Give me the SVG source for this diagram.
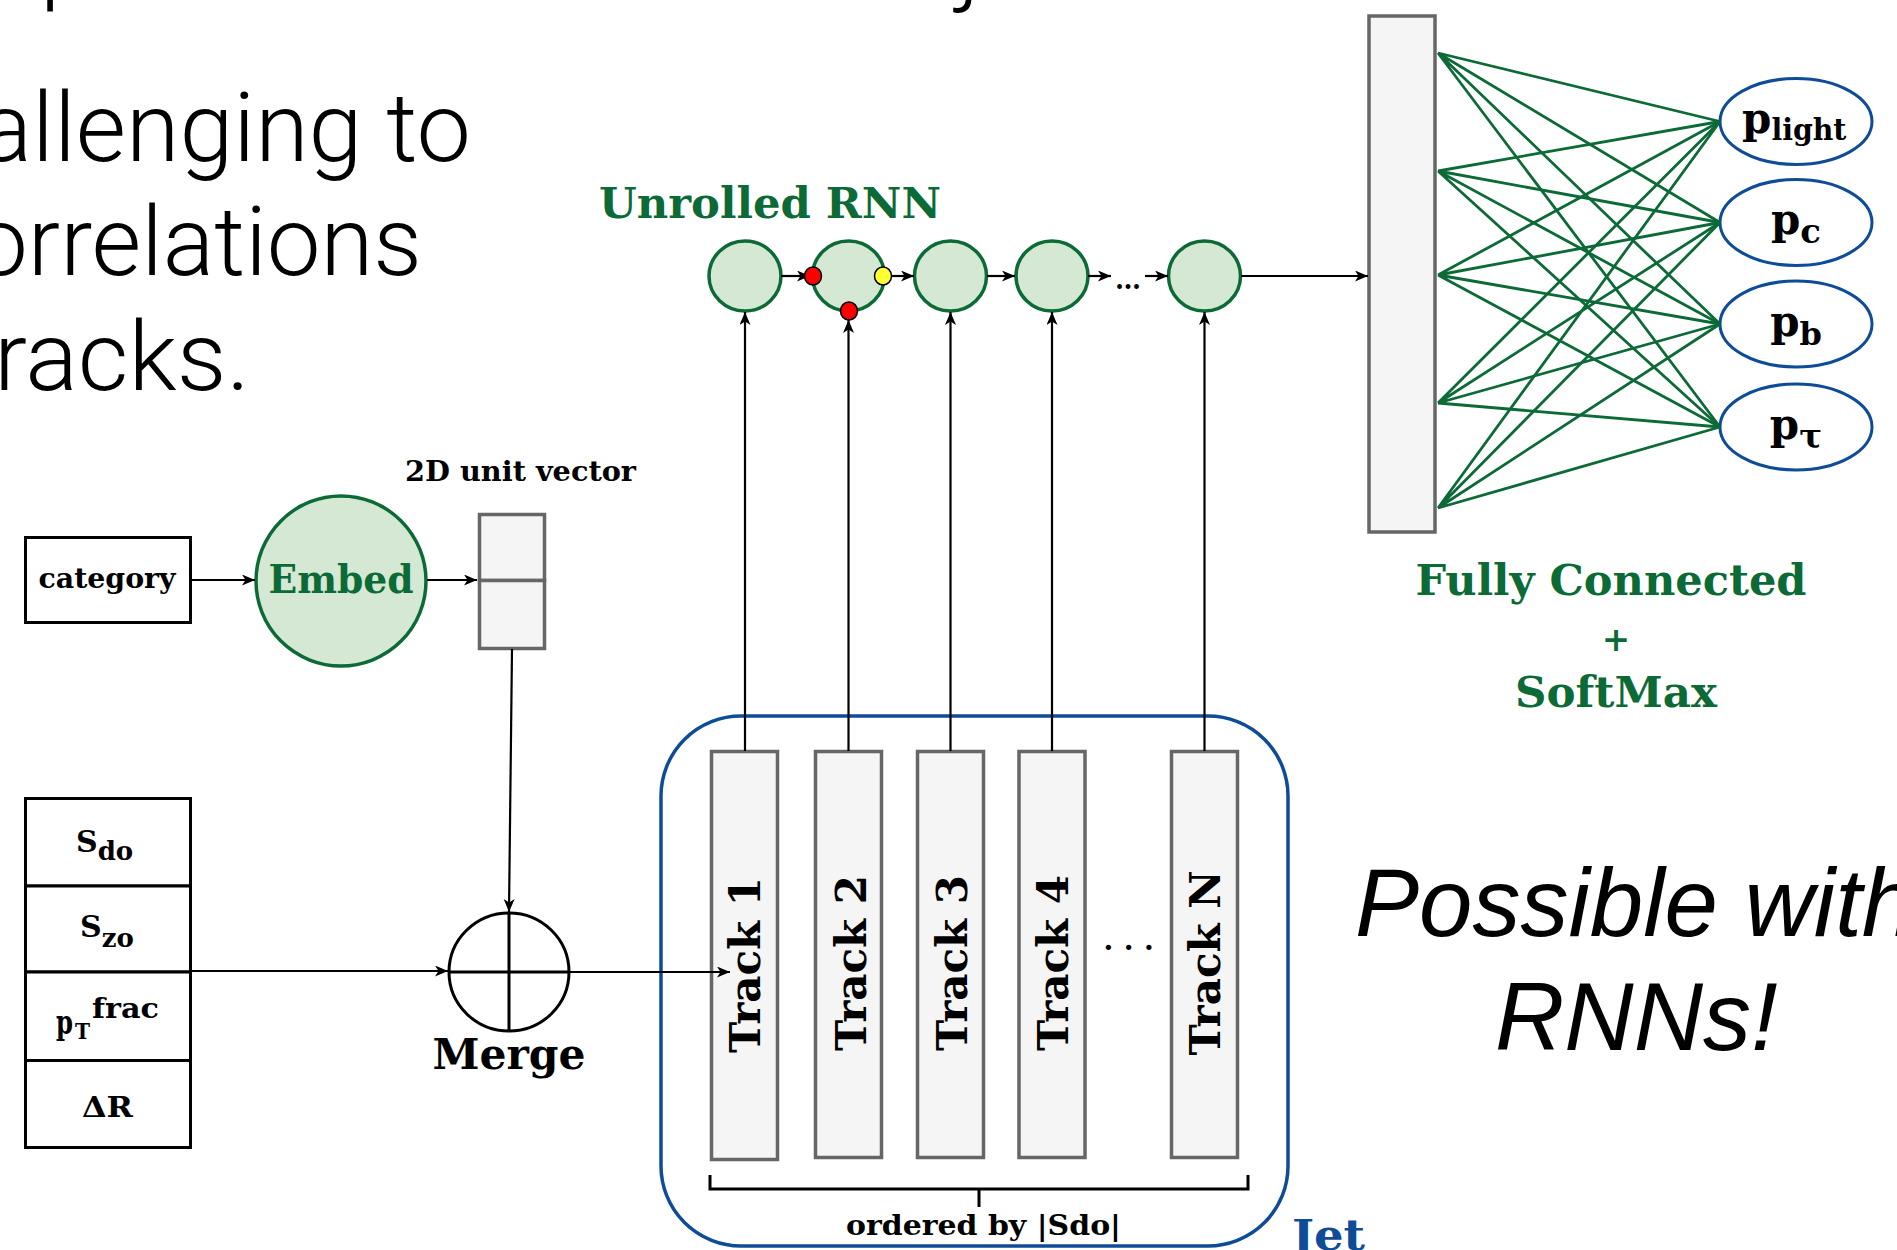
<svg xmlns="http://www.w3.org/2000/svg" width="1897" height="1250" viewBox="0 0 1897 1250">
<defs>
<style>
.slide{font-family:Roboto,"Liberation Sans",sans-serif;font-weight:300;font-size:96px;fill:#000}
.ital{font-family:"Liberation Sans",Arial,sans-serif;font-style:italic;font-size:96px;fill:#000}
.lbl{font-family:"DejaVu Serif","Liberation Serif",serif;font-weight:bold;fill:#000}
.grn{fill:#0b6a36}
.blu{fill:#0f4c97}
.gbox{fill:#f5f5f5;stroke:#666;stroke-width:3.5}
.gcirc{fill:#d5e8d4;stroke:#0b6a36;stroke-width:3.5}
.bell{fill:#fff;stroke:#0f4c97;stroke-width:3}
.bk{fill:#fff;stroke:#000;stroke-width:3}
.conn{stroke:#000;stroke-width:2.2;fill:none}
.arr{marker-end:url(#ah)}
.fan{stroke:#0b6a36;stroke-width:2.8;fill:none}
.dot{stroke:#000;stroke-width:1.5}
</style>
<marker id="ah" markerUnits="userSpaceOnUse" markerWidth="15" markerHeight="12" refX="13" refY="5.5" orient="auto"><path d="M0,0 L13,5.5 L0,11 L3.5,5.5 z" fill="#000"/></marker>
</defs>
<rect x="0" y="0" width="1897" height="1250" fill="#fff"/>

<g id="slide-text">
<text class="slide" x="40" y="-8">p</text>
<text class="slide" x="958" y="-8">j</text>
<text class="slide" x="-20" y="161" textLength="491" lengthAdjust="spacingAndGlyphs">allenging to</text>
<text class="slide" x="-26" y="275" textLength="448" lengthAdjust="spacingAndGlyphs">orrelations</text>
<text class="slide" x="-6" y="390" textLength="256" lengthAdjust="spacingAndGlyphs">racks.</text>
<text class="ital" x="1355" y="936">Possible with</text>
<text class="ital" x="1495" y="1050">RNNs!</text>
</g>

<g id="jet">
<rect x="661" y="716" width="627" height="530" rx="80" ry="80" fill="none" stroke="#0f4c97" stroke-width="3.5"/>
<text class="lbl blu" x="1292" y="1250" font-size="42" textLength="73" lengthAdjust="spacingAndGlyphs">Jet</text>
</g>

<g id="category">
<rect class="bk" x="25.5" y="537.5" width="165" height="85"/>
<text class="lbl" x="107" y="588" font-size="27" text-anchor="middle" textLength="137" lengthAdjust="spacingAndGlyphs">category</text>
</g>

<g id="embed">
<ellipse class="gcirc" cx="341" cy="581" rx="85" ry="85"/>
<text class="lbl grn" x="341" y="593" font-size="39" text-anchor="middle" textLength="145" lengthAdjust="spacingAndGlyphs">Embed</text>
</g>

<g id="unit-vector">
<text class="lbl" x="405" y="481" font-size="28" textLength="231" lengthAdjust="spacingAndGlyphs">2D unit vector</text>
<rect class="gbox" x="479.5" y="514.5" width="65" height="66"/>
<rect class="gbox" x="479.5" y="580.5" width="65" height="68"/>
</g>

<g id="features">
<rect class="bk" x="25.5" y="798.5" width="165" height="87.5"/>
<rect class="bk" x="25.5" y="886" width="165" height="86"/>
<rect class="bk" x="25.5" y="972" width="165" height="88.5"/>
<rect class="bk" x="25.5" y="1060.5" width="165" height="87"/>
<text class="lbl" x="76" y="852" font-size="30">S<tspan font-size="26" dy="8">do</tspan></text>
<text class="lbl" x="80" y="937" font-size="30">S<tspan font-size="26" dy="10">zo</tspan></text>
<text class="lbl" x="56" y="1034" font-size="33" textLength="17" lengthAdjust="spacingAndGlyphs">p</text>
<text class="lbl" x="75" y="1039" font-size="22" textLength="15" lengthAdjust="spacingAndGlyphs">T</text>
<text class="lbl" x="92" y="1018" font-size="27" textLength="67" lengthAdjust="spacingAndGlyphs">frac</text>
<text class="lbl" x="82" y="1117" font-size="28" textLength="51" lengthAdjust="spacingAndGlyphs">ΔR</text>
</g>

<g id="merge">
<ellipse class="bk" cx="509" cy="972" rx="60" ry="59"/>
<path d="M449,972 H569 M509,913 V1031" stroke="#000" stroke-width="3" fill="none"/>
<text class="lbl" x="509" y="1069" font-size="42" text-anchor="middle" textLength="153" lengthAdjust="spacingAndGlyphs">Merge</text>
</g>

<g id="track-1">
<rect class="gbox" x="711.5" y="751.5" width="66" height="408"/>
<text class="lbl" font-size="42" text-anchor="middle" transform="translate(760,965) rotate(-90)">Track 1</text>
</g>
<g id="track-2">
<rect class="gbox" x="815.5" y="751.5" width="66" height="406"/>
<text class="lbl" font-size="42" text-anchor="middle" transform="translate(866,963) rotate(-90)">Track 2</text>
</g>
<g id="track-3">
<rect class="gbox" x="917.5" y="751.5" width="66" height="406"/>
<text class="lbl" font-size="42" text-anchor="middle" transform="translate(967,963) rotate(-90)">Track 3</text>
</g>
<g id="track-4">
<rect class="gbox" x="1019" y="751.5" width="66" height="406"/>
<text class="lbl" font-size="42" text-anchor="middle" transform="translate(1068,963) rotate(-90)">Track 4</text>
</g>
<g id="track-n">
<rect class="gbox" x="1171.5" y="751.5" width="66" height="406"/>
<text class="lbl" font-size="42" text-anchor="middle" transform="translate(1220,963) rotate(-90)">Track N</text>
</g>
<g id="track-dots">
<text class="lbl" x="1103.5" y="950" font-size="28" font-weight="normal" letter-spacing="10.5">...</text>
</g>
<g id="ordering">
<text class="lbl" x="983.5" y="1235" font-size="28.5" text-anchor="middle" textLength="275" lengthAdjust="spacingAndGlyphs">ordered by |Sdo|</text>
</g>

<g id="rnn-title">
<text class="lbl grn" x="599" y="218" font-size="43" textLength="342" lengthAdjust="spacingAndGlyphs">Unrolled RNN</text>
</g>
<g id="rnn-1"><ellipse class="gcirc" cx="745" cy="276" rx="36" ry="35"/></g>
<g id="rnn-2"><ellipse class="gcirc" cx="848.5" cy="276" rx="36" ry="35"/></g>
<g id="rnn-3"><ellipse class="gcirc" cx="950.5" cy="276" rx="36" ry="35"/></g>
<g id="rnn-4"><ellipse class="gcirc" cx="1052" cy="276" rx="36" ry="35"/></g>
<g id="rnn-n"><ellipse class="gcirc" cx="1204.5" cy="276" rx="36" ry="35"/></g>
<g id="rnn-dots">
<text class="lbl" x="1128" y="289" font-size="26" text-anchor="middle" font-weight="normal">…</text>
</g>

<g id="fc-layer">
<rect class="gbox" x="1369" y="16" width="66" height="516" stroke-width="4"/>
<text class="lbl grn" x="1611" y="595" font-size="42.5" text-anchor="middle" textLength="391" lengthAdjust="spacingAndGlyphs">Fully Connected</text>
<text class="lbl grn" x="1616" y="651" font-size="34" text-anchor="middle">+</text>
<text class="lbl grn" x="1616" y="707" font-size="43" text-anchor="middle" textLength="202" lengthAdjust="spacingAndGlyphs">SoftMax</text>
</g>

<g id="p-light">
<ellipse class="bell" cx="1796" cy="121.5" rx="76" ry="43"/>
<text class="lbl" x="1742" y="133" font-size="42">p<tspan font-size="30" dy="7" textLength="75" lengthAdjust="spacingAndGlyphs">light</tspan></text>
</g>
<g id="p-c">
<ellipse class="bell" cx="1796" cy="222.5" rx="76" ry="43"/>
<text class="lbl" x="1796" y="234" font-size="42" text-anchor="middle">p<tspan font-size="34" dy="9">c</tspan></text>
</g>
<g id="p-b">
<ellipse class="bell" cx="1796" cy="324" rx="76" ry="43"/>
<text class="lbl" x="1796" y="336" font-size="42" text-anchor="middle">p<tspan font-size="32" dy="9">b</tspan></text>
</g>
<g id="p-tau">
<ellipse class="bell" cx="1796" cy="427" rx="76" ry="43"/>
<text class="lbl" x="1796" y="439" font-size="42" text-anchor="middle">p<tspan font-size="34" dy="9">τ</tspan></text>
</g>

<g id="connectors">
<path class="conn arr" d="M191,580 H255"/>
<path class="conn arr" d="M427,580 H477"/>
<path class="conn arr" d="M512,649 L509,912"/>
<path class="conn arr" d="M191,971 H448"/>
<path class="conn arr" d="M569,972 H730"/>
<path class="conn arr" d="M745,751 V312"/>
<path class="conn arr" d="M848.5,751 V320"/>
<path class="conn arr" d="M950.5,751 V312"/>
<path class="conn arr" d="M1052,751 V312"/>
<path class="conn arr" d="M1204.5,751 V312"/>
<path class="conn arr" d="M781,276 H810"/>
<path class="conn arr" d="M892,276 H914"/>
<path class="conn arr" d="M987,276 H1015"/>
<path class="conn arr" d="M1088,276 H1111"/>
<path class="conn arr" d="M1145,276 H1168"/>
<path class="conn arr" d="M1241,276 H1368"/>
<path d="M710,1175 V1189 H1248 V1175 M979,1189 V1207" stroke="#000" stroke-width="3" fill="none"/>
<g class="fan">
<path d="M1438,53 L1720,121.5 M1438,53 L1720,222.5 M1438,53 L1720,324 M1438,53 L1720,427"/>
<path d="M1438,171 L1720,121.5 M1438,171 L1720,222.5 M1438,171 L1720,324 M1438,171 L1720,427"/>
<path d="M1438,275 L1720,121.5 M1438,275 L1720,222.5 M1438,275 L1720,324 M1438,275 L1720,427"/>
<path d="M1438,403 L1720,121.5 M1438,403 L1720,222.5 M1438,403 L1720,324 M1438,403 L1720,427"/>
<path d="M1438,508 L1720,121.5 M1438,508 L1720,222.5 M1438,508 L1720,324 M1438,508 L1720,427"/>
</g>
</g>

<g id="rnn-gates">
<ellipse class="dot" cx="813" cy="276" rx="8.5" ry="9" fill="#ff0000"/>
<ellipse class="dot" cx="883" cy="276" rx="8.5" ry="9" fill="#ffff33"/>
<ellipse class="dot" cx="849" cy="311" rx="8.5" ry="9" fill="#ff0000"/>
</g>
</svg>
